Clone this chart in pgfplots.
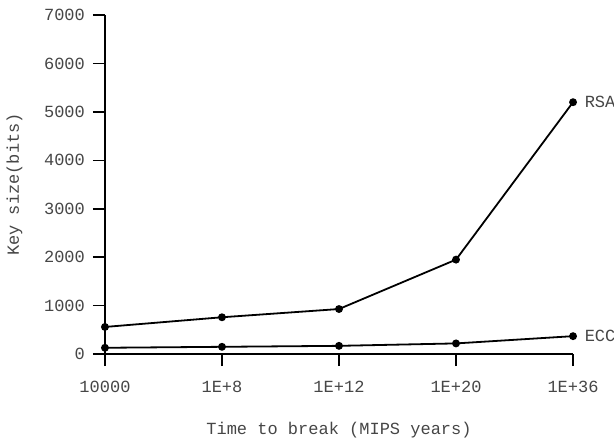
\documentclass[border=0pt]{standalone}
\usepackage{pgfplots}
\pgfplotsset{compat=1.18}
\usepackage{fontspec}
\setmainfont{Liberation Mono}
\setmonofont{Liberation Mono}
\definecolor{txtGray}{RGB}{70,70,70}

\begin{document}
\begin{tikzpicture}
    \begin{axis}[
            scale only axis,
            width=234pt,
            height=169.5pt,
            xmin=0, xmax=4,
            ymin=0, ymax=7000,
            axis x line=bottom,
            axis y line=left,
            axis line style={-, black, line width=0.8pt},
            tick style={black, line width=0.8pt},
            tick align=outside,
            major tick length=6pt,
            xtick={0,1,2,3,4},
            xticklabels={10000,1E+8,1E+12,1E+20,1E+36},
            ytick={0,1000,2000,3000,4000,5000,6000,7000},
            /pgf/number format/1000 sep={},
            /pgf/number format/assume math mode=true,
            tick label style={font=\fontsize{8.5}{10}\selectfont, text=txtGray},
            xticklabel style={yshift=-4pt},
            yticklabel style={xshift=-0.5pt},
            xlabel={Time to break (MIPS years)},
            ylabel={Key size(bits)},
            label style={font=\fontsize{8.5}{10}\selectfont, text=txtGray},
            xlabel style={yshift=-8pt},
            ylabel style={yshift=4pt},
            clip=false,
        ]

        % RSA
        \addplot[black, line width=0.9pt, mark=*, mark size=1.5pt] coordinates {
                (0,560) (1,760) (2,930) (3,1950) (4,5200)
            };
        % ECC
        \addplot[black, line width=0.9pt, mark=*, mark size=1.5pt] coordinates {
                (0,130) (1,150) (2,170) (3,220) (4,370)
            };

        \node[anchor=west, font=\fontsize{8.5}{10}\selectfont, text=txtGray] at (axis cs:4.04,5200) {RSA};
        \node[anchor=west, font=\fontsize{8.5}{10}\selectfont, text=txtGray] at (axis cs:4.04,370) {ECC};

        \coordinate (bl) at (axis cs:-0.897,-1798);
        \coordinate (tr) at (axis cs:4.35,7310);
    \end{axis}
    \pgfresetboundingbox
    \path[use as bounding box] (bl) rectangle (tr);
\end{tikzpicture}
\end{document}
